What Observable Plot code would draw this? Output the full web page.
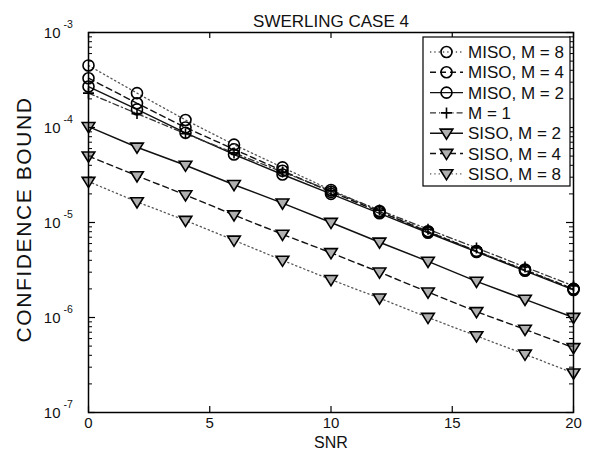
<!DOCTYPE html>
<html><head><meta charset="utf-8">
<script src="https://cdn.jsdelivr.net/npm/d3@7"></script>
<script src="https://cdn.jsdelivr.net/npm/@observablehq/plot@0.6"></script>
<style>body{margin:0;background:#fff} #chart{width:593px;height:457px}</style>
</head><body><div id="chart"></div>
<script>
// ---- data ----
const snr = [0, 2, 4, 6, 8, 10, 12, 14, 16, 18, 20];
const misoM8 = [4.5e-4, 2.3e-4, 1.2e-4, 6.6e-5, 3.8e-5, 2.2e-5, 1.32e-5, 8.1e-6, 5.0e-6, 3.2e-6, 2.0e-6];
const misoM4 = [3.3e-4, 1.8e-4, 1.0e-4, 5.9e-5, 3.5e-5, 2.1e-5, 1.3e-5, 8.0e-6, 5.0e-6, 3.15e-6, 2.0e-6];
const misoM2 = [2.7e-4, 1.55e-4, 8.8e-5, 5.2e-5, 3.2e-5, 2.0e-5, 1.25e-5, 7.8e-6, 4.9e-6, 3.1e-6, 1.95e-6];
const m1     = [2.3e-4, 1.4e-4, 8.6e-5, 5.4e-5, 3.4e-5, 2.15e-5, 1.35e-5, 8.5e-6, 5.4e-6, 3.4e-6, 2.15e-6];
const sisoM2 = [1.02e-4, 6.2e-5, 4.0e-5, 2.5e-5, 1.6e-5, 1.0e-5, 6.2e-6, 3.9e-6, 2.4e-6, 1.55e-6, 1.0e-6];
const sisoM4 = [5.0e-5, 3.1e-5, 1.95e-5, 1.2e-5, 7.5e-6, 4.8e-6, 3.0e-6, 1.85e-6, 1.15e-6, 7.5e-7, 4.8e-7];
const sisoM8 = [2.7e-5, 1.65e-5, 1.05e-5, 6.5e-6, 4.0e-6, 2.5e-6, 1.6e-6, 1.0e-6, 6.4e-7, 4.1e-7, 2.6e-7];
const seriesLabels = ["MISO, M = 8", "MISO, M = 4", "MISO, M = 2", "M = 1", "SISO, M = 2", "SISO, M = 4", "SISO, M = 8"];
const seriesValues = [misoM8, misoM4, misoM2, m1, sisoM2, sisoM4, sisoM8];
const xTicks = [0, 5, 10, 15, 20];
const yDecades = [1e-3, 1e-4, 1e-5, 1e-6, 1e-7];
const titleText = "SWERLING CASE 4";
const xLabel = "SNR";
const yLabel = "CONFIDENCE BOUND";

// ---- styles ----
const triDown = {draw(ctx, size) {
  const r = Math.sqrt(size / Math.PI);
  ctx.moveTo(-1.15 * r, -0.75 * r); ctx.lineTo(1.15 * r, -0.75 * r); ctx.lineTo(0, 1.1 * r); ctx.closePath();
}};
const plusSym = {draw(ctx, size) {
  const r = Math.sqrt(size / Math.PI) * 1.0;
  ctx.moveTo(-r, 0); ctx.lineTo(r, 0); ctx.moveTo(0, -r); ctx.lineTo(0, r);
}};
const circleSym = {draw(ctx, size) {
  const r = Math.sqrt(size / Math.PI);
  ctx.moveTo(r, 0); ctx.arc(0, 0, r, 0, 2 * Math.PI);
}};
const styles = [
  {dash: "1.3,3", stroke: "#555", width: 1.3, sym: circleSym, fill: "none", r: 5.5},
  {dash: "6,4", stroke: "#111", width: 1.4, sym: circleSym, fill: "none", r: 5.5},
  {dash: null, stroke: "#111", width: 1.4, sym: circleSym, fill: "none", r: 5.5},
  {dash: "6,3,1.3,3", stroke: "#333", width: 1.3, sym: plusSym, fill: "none", r: 5.5},
  {dash: null, stroke: "#111", width: 1.5, sym: triDown, fill: "#b0b0b0", r: 5.5},
  {dash: "6,4", stroke: "#111", width: 1.4, sym: triDown, fill: "#b0b0b0", r: 5.5},
  {dash: "1.3,3", stroke: "#555", width: 1.3, sym: triDown, fill: "#b0b0b0", r: 5.5}
];

const rows = seriesValues.flatMap((vals, s) => vals.map((v, i) => ({snr: snr[i], value: v, s})));
const yMinor = d3.range(-7, -3).flatMap(e => d3.range(2, 10).map(m => m * Math.pow(10, e)));

const W = 593, H = 457, mL = 88, mR = 20, mT = 32, mB = 45;
const pW = W - mL - mR, pH = H - mT - mB;
const font = "'Liberation Sans', Arial, Helvetica, sans-serif";

const marks = [];
styles.forEach((st, s) => {
  const d = rows.filter(r => r.s === s);
  marks.push(Plot.line(d, {x: "snr", y: "value", stroke: st.stroke, strokeWidth: st.width, strokeDasharray: st.dash || undefined}));
});
styles.forEach((st, s) => {
  const d = rows.filter(r => r.s === s);
  marks.push(Plot.dot(d, {x: "snr", y: "value", symbol: st.sym, r: st.r, stroke: "#000", strokeWidth: 1.6, fill: st.fill}));
});

const chart = Plot.plot({
  width: W, height: H,
  marginLeft: mL, marginRight: mR, marginTop: mT, marginBottom: mB,
  style: {fontFamily: font, background: "white", color: "black"},
  x: {domain: [0, 20], axis: null},
  y: {type: "log", domain: [1e-7, 1e-3], axis: null},
  marks: [
    ...marks,
    // ticks (inward, on all sides)
    Plot.ruleX(xTicks, {x: d => d, insetTop: pH - 6, stroke: "#000", strokeWidth: 1.2}),
    Plot.ruleX(xTicks, {x: d => d, insetBottom: pH - 6, stroke: "#000", strokeWidth: 1.2}),
    Plot.ruleY(yDecades, {y: d => d, insetRight: pW - 7, stroke: "#000", strokeWidth: 1.2}),
    Plot.ruleY(yDecades, {y: d => d, insetLeft: pW - 7, stroke: "#000", strokeWidth: 1.2}),
    Plot.ruleY(yMinor, {y: d => d, insetRight: pW - 4, stroke: "#000", strokeWidth: 1}),
    Plot.ruleY(yMinor, {y: d => d, insetLeft: pW - 4, stroke: "#000", strokeWidth: 1}),
    Plot.frame({stroke: "#000", strokeWidth: 1.5}),
    // tick labels
    Plot.text(xTicks, {x: d => d, frameAnchor: "bottom", dy: 15, text: d => String(d), fontSize: 15, fill: "#111"}),
    Plot.text(yDecades, {y: d => d, frameAnchor: "left", dx: -28, dy: 1, textAnchor: "end", text: () => "10", fontSize: 15, fill: "#111"}),
    Plot.text(yDecades, {y: d => d, frameAnchor: "left", dx: -25, dy: -8, textAnchor: "start", text: d => String(Math.round(Math.log10(d))), fontSize: 10.5, fill: "#111"}),
    // title and axis labels
    Plot.text([titleText], {frameAnchor: "top", dy: -18, text: d => d, fontSize: 17, fill: "#111"}),
    Plot.text([xLabel], {frameAnchor: "bottom", dy: 35, text: d => d, fontSize: 16, fill: "#111"}),
    Plot.text([yLabel], {frameAnchor: "left", dx: -64, dy: -3, rotate: -90, textAnchor: "middle", text: d => d, fontSize: 21, fill: "#111", className: "ylab"})
  ]
});
document.getElementById("chart").appendChild(chart);
d3.select(chart).selectAll(".ylab text").style("letter-spacing", "1.6px");

// ---- legend ----
const svg = d3.select(chart);
const lg = svg.append("g").attr("font-family", font).attr("text-anchor", "start");
const bx = 423, by = 37, bw = 147, rowH = 20.3, y0 = 52;
lg.append("rect").attr("x", bx).attr("y", by).attr("width", bw).attr("height", 149)
  .attr("fill", "white").attr("stroke", "#000").attr("stroke-width", 1.2);
seriesLabels.forEach((lab, i) => {
  const st = styles[i], yy = y0 + i * rowH;
  lg.append("line").attr("x1", 430).attr("x2", 463).attr("y1", yy).attr("y2", yy)
    .attr("stroke", st.stroke).attr("stroke-width", st.width)
    .attr("stroke-dasharray", st.dash);
  lg.append("path").attr("d", d3.symbol(st.sym, Math.PI * st.r * st.r)())
    .attr("transform", `translate(446.5,${yy})`)
    .attr("fill", st.fill).attr("stroke", "#000").attr("stroke-width", 1.6);
  lg.append("text").attr("x", 468).attr("y", yy).attr("dy", "0.36em")
    .attr("text-anchor", "start")
    .attr("font-size", 17).attr("fill", "#111").text(lab);
});
</script></body></html>
